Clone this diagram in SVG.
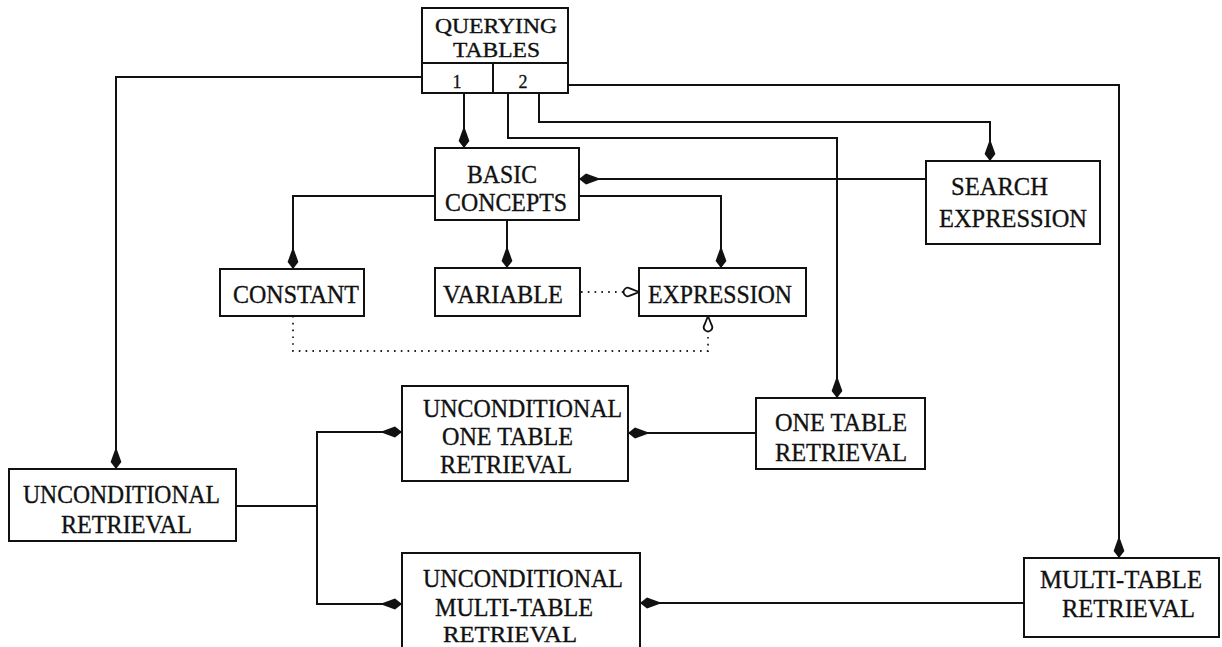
<svg xmlns="http://www.w3.org/2000/svg" width="1222" height="647" viewBox="0 0 1222 647">
  <style>
    .box { fill: #fff; stroke: #111; stroke-width: 2; }
    .wire { fill: none; stroke: #111; stroke-width: 2; }
    .dot { fill: none; stroke: #222; stroke-width: 1.8; stroke-dasharray: 1.6 5.2; }
    .lbl { font-family: "Liberation Serif", "Times New Roman", serif; font-size: 26px; fill: #111; stroke: #111; stroke-width: 0.35px; }
    .head { font-size: 21px; }
    .num { font-family: "Liberation Serif", "Times New Roman", serif; font-size: 18px; fill: #111; stroke: #111; stroke-width: 0.3px; text-anchor: middle; }
  </style>
  <defs>
    <!-- solid spear-shaped head -->
    <marker id="solid" markerUnits="userSpaceOnUse" viewBox="-23 -6 24 12" markerWidth="24" markerHeight="12" refX="0" refY="0" orient="auto">
      <path d="M0,0 L-7,-5.4 L-22,0 L-7,5.4 Z" fill="#111"/>
    </marker>
    <!-- hollow teardrop head for dotted links -->
    <marker id="hollow" markerUnits="userSpaceOnUse" viewBox="-18 -7 20 14" markerWidth="20" markerHeight="14" refX="0" refY="0" orient="auto">
      <path d="M0,0 L-9,-3.6 A4.2,4.2 0 1 0 -9,3.6 Z" fill="#fff" stroke="#111" stroke-width="1.8"/>
    </marker>
  </defs>

  <g id="connectors">
    <!-- from the main topic -->
    <polyline class="wire" points="422,77 116,77 116,469" marker-end="url(#solid)"/>
    <polyline class="wire" points="568,85 1119,85 1119,558" marker-end="url(#solid)"/>
    <polyline class="wire" points="464,93 464,148" marker-end="url(#solid)"/>
    <polyline class="wire" points="508,93 508,138 837,138 837,398" marker-end="url(#solid)"/>
    <polyline class="wire" points="539,93 539,122 990,122 990,161" marker-end="url(#solid)"/>
    <!-- search expression to basic concepts -->
    <polyline class="wire" points="926,179 579,179" marker-end="url(#solid)"/>
    <!-- basic concepts fan-out -->
    <polyline class="wire" points="435,196 293,196 293,269" marker-end="url(#solid)"/>
    <polyline class="wire" points="579,196 721,196 721,268" marker-end="url(#solid)"/>
    <polyline class="wire" points="507,220 507,268" marker-end="url(#solid)"/>
    <!-- dotted dependencies -->
    <polyline class="dot" points="581,292 639,292" marker-end="url(#hollow)"/>
    <polyline class="dot" points="293,316 293,351 708,351 708,316" marker-end="url(#hollow)"/>
    <!-- unconditional retrieval split -->
    <polyline class="wire" points="236,506 317,506"/>
    <polyline class="wire" points="317,506 317,432 402,432" marker-end="url(#solid)"/>
    <polyline class="wire" points="317,506 317,604 402,604" marker-end="url(#solid)"/>
    <!-- retrieval specialisations -->
    <polyline class="wire" points="756,433 628,433" marker-end="url(#solid)"/>
    <polyline class="wire" points="1024,603 640,603" marker-end="url(#solid)"/>
  </g>

  <g id="querying-tables">
    <rect class="box" x="422" y="8" width="146" height="85"/>
    <line class="wire" x1="422" y1="63" x2="568" y2="63"/>
    <line class="wire" x1="493" y1="63" x2="493" y2="93"/>
    <text class="lbl head" x="435" y="33" textLength="122" lengthAdjust="spacingAndGlyphs">QUERYING</text>
    <text class="lbl head" x="453" y="57" textLength="87" lengthAdjust="spacingAndGlyphs">TABLES</text>
    <text class="num" x="457" y="88">1</text>
    <text class="num" x="523" y="88">2</text>
  </g>

  <g id="basic-concepts">
    <rect class="box" x="435" y="148" width="144" height="72"/>
    <text class="lbl" x="467" y="183" textLength="70" lengthAdjust="spacingAndGlyphs">BASIC</text>
    <text class="lbl" x="445" y="211" textLength="122" lengthAdjust="spacingAndGlyphs">CONCEPTS</text>
  </g>

  <g id="search-expression">
    <rect class="box" x="926" y="161" width="174" height="83"/>
    <text class="lbl" x="951" y="195" textLength="97" lengthAdjust="spacingAndGlyphs">SEARCH</text>
    <text class="lbl" x="939" y="227" textLength="148" lengthAdjust="spacingAndGlyphs">EXPRESSION</text>
  </g>

  <g id="constant">
    <rect class="box" x="220" y="269" width="144" height="47"/>
    <text class="lbl" x="233" y="303" textLength="126" lengthAdjust="spacingAndGlyphs">CONSTANT</text>
  </g>

  <g id="variable">
    <rect class="box" x="435" y="268" width="145" height="48"/>
    <text class="lbl" x="443" y="303" textLength="120" lengthAdjust="spacingAndGlyphs">VARIABLE</text>
  </g>

  <g id="expression">
    <rect class="box" x="639" y="268" width="167" height="48"/>
    <text class="lbl" x="648" y="303" textLength="144" lengthAdjust="spacingAndGlyphs">EXPRESSION</text>
  </g>

  <g id="unconditional-retrieval">
    <rect class="box" x="9" y="469" width="227" height="72"/>
    <text class="lbl" x="23" y="503" textLength="197" lengthAdjust="spacingAndGlyphs">UNCONDITIONAL</text>
    <text class="lbl" x="61" y="533" textLength="131" lengthAdjust="spacingAndGlyphs">RETRIEVAL</text>
  </g>

  <g id="unconditional-one-table">
    <rect class="box" x="402" y="386" width="226" height="95"/>
    <text class="lbl" x="423" y="417" textLength="199" lengthAdjust="spacingAndGlyphs">UNCONDITIONAL</text>
    <text class="lbl" x="442" y="445" textLength="131" lengthAdjust="spacingAndGlyphs">ONE TABLE</text>
    <text class="lbl" x="440" y="473" textLength="132" lengthAdjust="spacingAndGlyphs">RETRIEVAL</text>
  </g>

  <g id="one-table-retrieval">
    <rect class="box" x="756" y="398" width="169" height="71"/>
    <text class="lbl" x="775" y="431" textLength="132" lengthAdjust="spacingAndGlyphs">ONE TABLE</text>
    <text class="lbl" x="775" y="461" textLength="132" lengthAdjust="spacingAndGlyphs">RETRIEVAL</text>
  </g>

  <g id="unconditional-multi-table">
    <rect class="box" x="402" y="553" width="238" height="104"/>
    <text class="lbl" x="423" y="587" textLength="200" lengthAdjust="spacingAndGlyphs">UNCONDITIONAL</text>
    <text class="lbl" x="435" y="616" textLength="158" lengthAdjust="spacingAndGlyphs">MULTI-TABLE</text>
    <text class="lbl" x="443" y="642" textLength="134" lengthAdjust="spacingAndGlyphs" style="font-size:24px">RETRIEVAL</text>
  </g>

  <g id="multi-table-retrieval">
    <rect class="box" x="1024" y="558" width="195" height="79"/>
    <text class="lbl" x="1040" y="588" textLength="162" lengthAdjust="spacingAndGlyphs">MULTI-TABLE</text>
    <text class="lbl" x="1062" y="617" textLength="133" lengthAdjust="spacingAndGlyphs">RETRIEVAL</text>
  </g>
</svg>
